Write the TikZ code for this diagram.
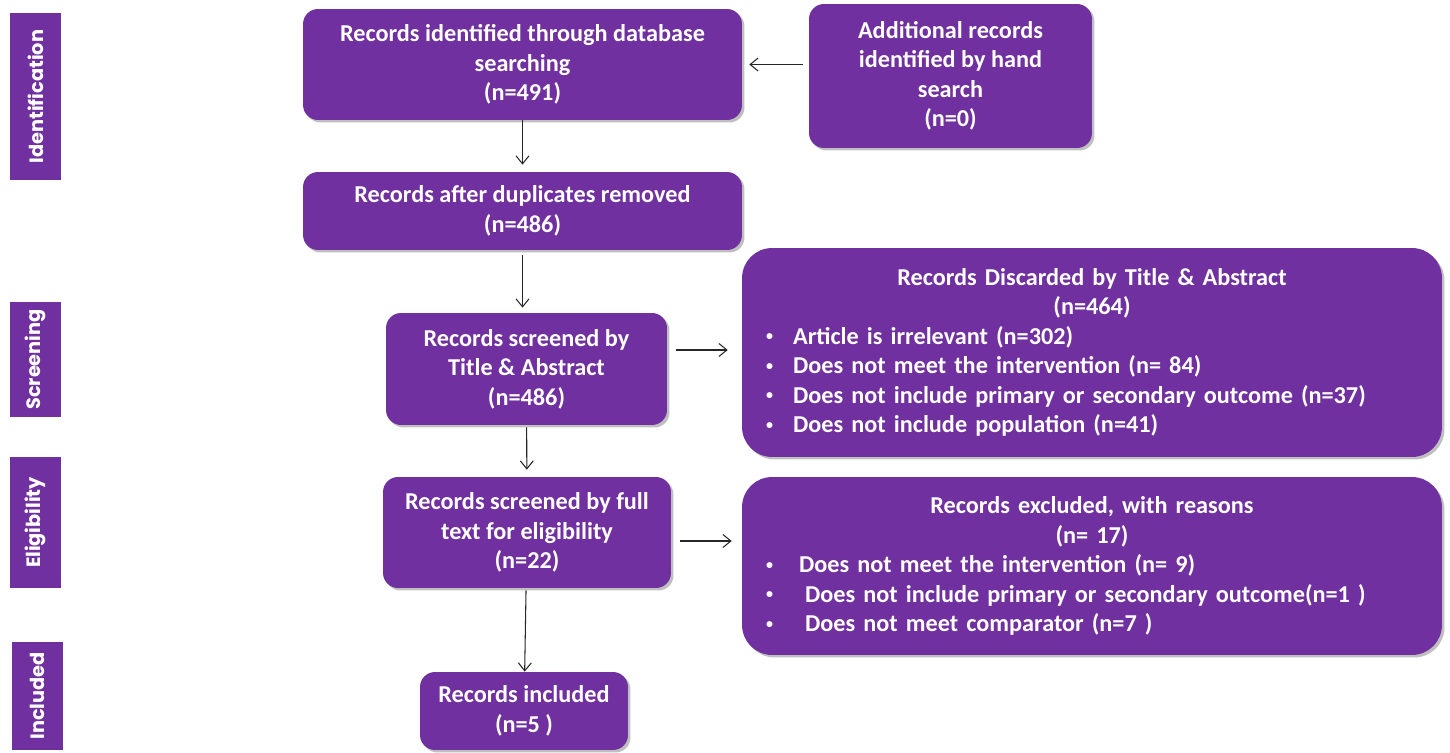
\documentclass[tikz,border=0pt]{standalone}
\usepackage{fontspec}
\setmainfont{Carlito}
\newfontfamily\sidefont{Poppins}
\usetikzlibrary{shadows,arrows.meta}
\definecolor{prismapurple}{RGB}{112,48,160}
\newcommand{\bitem}[1][0.54cm]{\makebox[#1][l]{\raisebox{0.3ex}{\fontsize{8}{8}\selectfont\textbullet}}}
\tikzset{
  stagebox/.style={rectangle, rounded corners=0.3cm, fill=prismapurple, text=white,
    font=\bfseries\fontsize{13.8}{16.8}\selectfont, align=center, inner sep=0pt,
    drop shadow={shadow xshift=0.05cm, shadow yshift=-0.05cm, opacity=0.25, fill=black}},
  listbox/.style={stagebox, rounded corners=0.6cm, text width=13.04cm, inner xsep=0.48cm, align=left},
  sidebox/.style={rectangle, fill=prismapurple, text=white, rotate=90, inner sep=0pt,
    font=\sidefont\bfseries\fontsize{11}{13}\selectfont, minimum height=1.02cm},
  arr/.style={-{Straight Barb[length=1.6mm, width=2.6mm]}, line width=0.6pt, black!85}
}

\begin{document}
\begin{tikzpicture}[x=0.02cm, y=-0.02cm]
		%%%%% START %%%%%
		\useasboundingbox (0,0) rectangle (1450,753);
		
		% phase labels
		\node[sidebox, minimum width=3.34cm] (ident) at (35.5,96.5) {Identification};
		\node[sidebox, minimum width=2.3cm] (screening) at (35.5,359.5) {Screening};
		\node[sidebox, minimum width=2.62cm] (elig) at (35.5,522.5) {Eligibility};
		\node[sidebox, minimum width=2.16cm] (incl) at (37.5,696) {Included};
		
		% flow boxes
		\node[stagebox, minimum width=8.78cm, minimum height=2.22cm] (dbsearch) at (522.5,64.5) {Records identified through database\\searching\\(n=491)};
		\node[stagebox, minimum width=5.66cm, minimum height=2.88cm] (handsearch) at (950.5,76) {Additional records\\identified by hand\\search\\(n=0)};
		\node[stagebox, minimum width=8.78cm, minimum height=1.56cm] (dupl) at (522.5,211) {Records after duplicates removed\\(n=486)};
		\node[stagebox, minimum width=5.62cm, minimum height=2.24cm] (screen) at (526.5,369) {Records screened by\\Title \& Abstract\\(n=486)};
		\node[stagebox, minimum width=5.76cm, minimum height=2.22cm] (fulltext) at (527,532.5) {Records screened by full\\text for eligibility\\(n=22)};
		\node[stagebox, minimum width=4.16cm, minimum height=1.56cm] (included) at (524,711) {Records included\\(n=5 )};
		
		\node[listbox, minimum height=4.18cm] (discard) at (1092,352.5) {\centering Records Discarded by Title \& Abstract\\(n=464)\par\raggedright
			\bitem Article is irrelevant (n=302)\\
			\bitem Does not meet the intervention (n= 84)\\
			\bitem Does not include primary or secondary outcome (n=37)\\
			\bitem Does not include population (n=41)};
		\node[listbox, minimum height=3.56cm] (excluded) at (1092,566) {\centering Records excluded, with reasons\\(n= 17)\par\raggedright
			\bitem[0.5cm] Does not meet the intervention (n= 9)\\
			\bitem[0.62cm] Does not include primary or secondary outcome(n=1 )\\
			\bitem[0.62cm] Does not meet comparator (n=7 )};
		
		% arrows
		\draw[arr, shorten <=0.12cm, shorten >=0.14cm] (handsearch.west |- dbsearch.east) -- (dbsearch.east);
		\draw[arr, shorten >=0.14cm] (dbsearch) -- (dupl);
		\draw[arr, shorten <=0.1cm, shorten >=0.1cm] (dupl.south) -- (dupl.south |- screen.north);
		\draw[arr, shorten <=0.18cm, shorten >=0.28cm] ([yshift=0.38cm]screen.east) -- ([yshift=0.38cm]screen.east -| discard.west);
		\draw[arr, shorten <=0.04cm, shorten >=0.14cm] (screen) -- (fulltext);
		\draw[arr, shorten <=0.18cm, shorten >=0.2cm] ([yshift=-0.17cm]fulltext.east) -- ([yshift=-0.17cm]fulltext.east -| excluded.west);
		\draw[arr, shorten <=0.04cm] (fulltext) -- (included);
		
		%%%%% END %%%%%
	\end{tikzpicture}
\end{document}
